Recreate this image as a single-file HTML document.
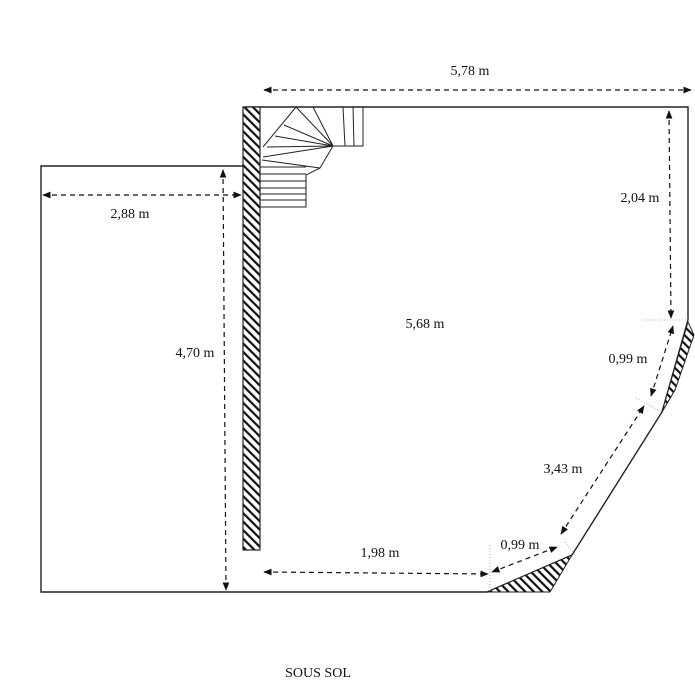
<!DOCTYPE html>
<html><head><style>body{margin:0;background:#fff}svg{display:block}text{font-family:"Liberation Serif",serif;font-size:14px;fill:#111}</style></head>
<body>
<svg width="695" height="700" viewBox="0 0 695 700">
<defs>
<pattern id="h" width="6" height="6" patternUnits="userSpaceOnUse" patternTransform="rotate(-45)">
<rect width="6" height="6" fill="#fff"/><rect width="2.2" height="6" fill="#111"/></pattern>
<marker id="a" viewBox="0 0 10 10" refX="9" refY="5" markerWidth="7" markerHeight="7" orient="auto-start-reverse"><path d="M0,1 L10,5 L0,9 z" fill="#111"/></marker>
</defs>
<g fill="none" stroke="#222" stroke-width="1.4">
<path d="M245,107 L688,107 L688,320 L662,412 L572,555 L487,592 L41,592 L41,166 L243,166"/>
</g>
<rect x="243" y="107" width="17" height="443" fill="url(#h)" stroke="#222" stroke-width="1.2"/>
<polygon points="688,322 662,412 675,390 694,335" fill="url(#h)" stroke="#222" stroke-width="1"/>
<polygon points="487,592 572,555 550,592" fill="url(#h)" stroke="#222" stroke-width="1"/>
<g stroke="#222" stroke-width="1" fill="none">
<path d="M333,107 L363,107 L363,146 L333,146 L320,168 L306,175 L306,207 L260,207"/>
<path d="M343,107 L345,146 M353,107 L354,146"/>
<path d="M296,107 L263,147 M296,107 L333,146 M313,107 L333,146"/>
<path d="M333,146 L284,125 M333,146 L275,136 M333,146 L267,147 M333,146 L263,157 M320,168 L262,160"/>
<path d="M260,174 L306,174 M260,181 L306,181 M260,188 L306,188 M260,194 L306,194 M260,200 L306,200 M260,167 L306,167"/>
</g>
<g stroke="#111" stroke-width="1.2" stroke-dasharray="5,4" fill="none" marker-start="url(#a)" marker-end="url(#a)">
<line x1="264" y1="90" x2="691" y2="90"/>
<line x1="43" y1="195" x2="241" y2="195"/>
<line x1="223" y1="170" x2="226" y2="590"/>
<line x1="669" y1="111" x2="671" y2="318"/>
<line x1="264" y1="572" x2="488" y2="574"/>
<line x1="492" y1="572" x2="557" y2="547"/>
<line x1="561" y1="534" x2="644" y2="406"/>
<line x1="651" y1="396" x2="673" y2="326"/>
</g>
<g stroke="#999" stroke-width="0.8" stroke-dasharray="1,2">
<line x1="643" y1="320" x2="690" y2="320"/>
<line x1="636" y1="398" x2="664" y2="413"/>
<line x1="490" y1="545" x2="490" y2="592"/>
<line x1="565" y1="542" x2="575" y2="555"/>
</g>
<text x="470" y="75" text-anchor="middle">5,78 m</text>
<text x="130" y="218" text-anchor="middle">2,88 m</text>
<text x="195" y="357" text-anchor="middle">4,70 m</text>
<text x="640" y="202" text-anchor="middle">2,04 m</text>
<text x="425" y="328" text-anchor="middle">5,68 m</text>
<text x="628" y="363" text-anchor="middle">0,99 m</text>
<text x="563" y="473" text-anchor="middle">3,43 m</text>
<text x="520" y="549" text-anchor="middle">0,99 m</text>
<text x="380" y="557" text-anchor="middle">1,98 m</text>
<text x="318" y="677" text-anchor="middle">SOUS SOL</text>
</svg>
</body></html>
